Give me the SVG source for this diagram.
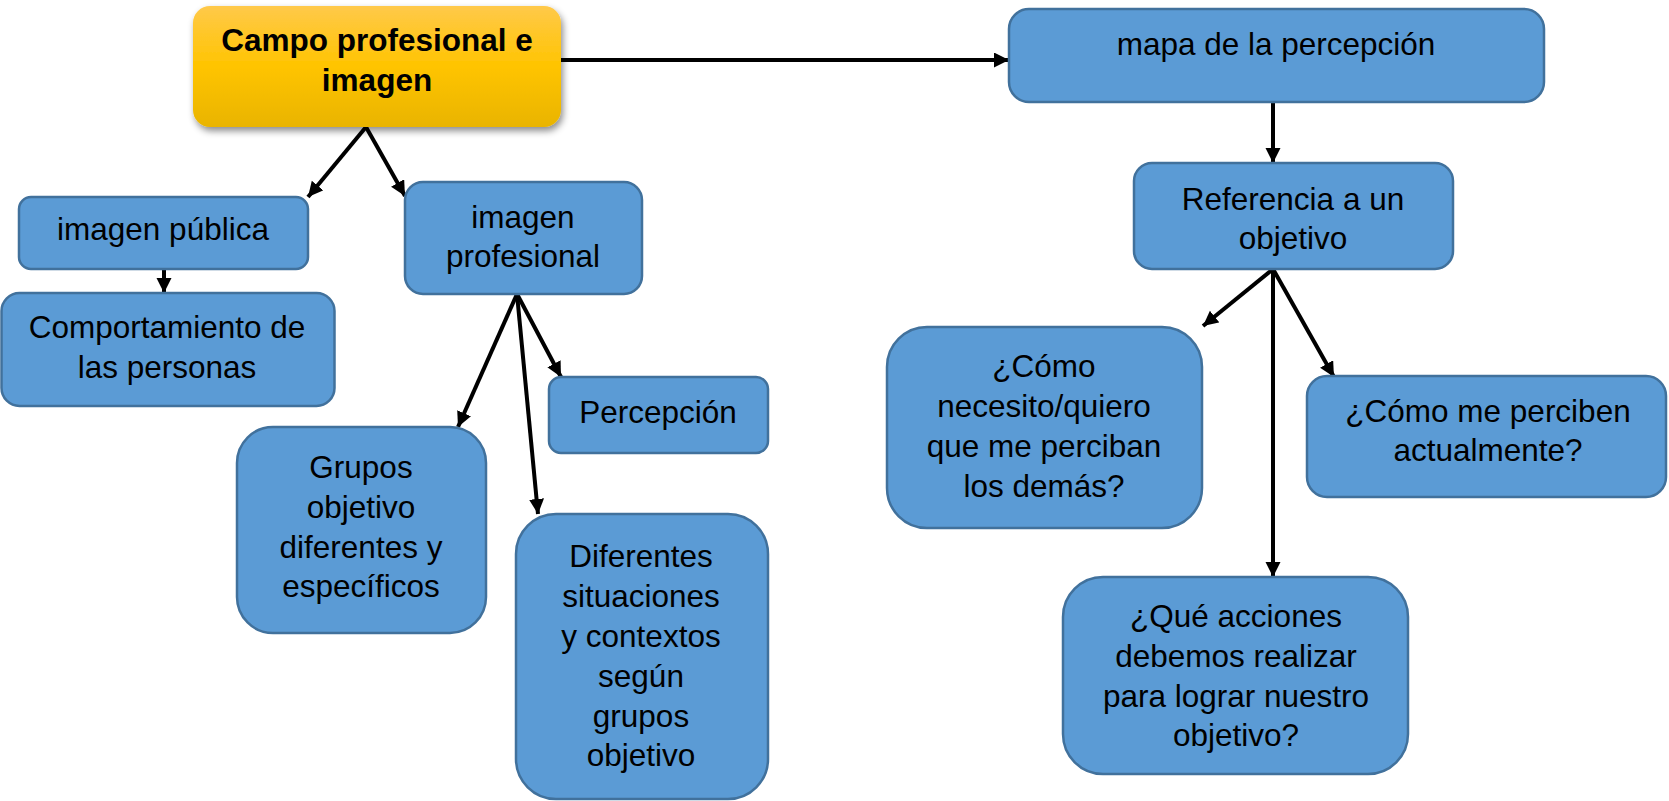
<svg xmlns="http://www.w3.org/2000/svg" width="1669" height="801" viewBox="0 0 1669 801">
<style>
.box{fill:#5B9BD5;stroke:#41719C;stroke-width:2.5}
.t{font-family:"Liberation Sans",Arial,sans-serif;font-size:31.5px;fill:#000;text-anchor:middle}
.tb{font-weight:bold}
.c{stroke:#000;stroke-width:4;fill:none;marker-end:url(#ah)}
</style>
<defs>
<marker id="ah" markerWidth="16" markerHeight="16" refX="15" refY="7.5" orient="auto" markerUnits="userSpaceOnUse">
<path d="M0,0 L15,7.5 L0,15 z" fill="#000"/>
</marker>
<linearGradient id="gold" x1="0" y1="0" x2="0" y2="1">
<stop offset="0" stop-color="#FFC94A"/>
<stop offset="0.5" stop-color="#FFC400"/>
<stop offset="1" stop-color="#E9B400"/>
</linearGradient>
<filter id="sh" x="-10%" y="-10%" width="125%" height="135%">
<feDropShadow dx="2" dy="4" stdDeviation="3.5" flood-color="#000" flood-opacity="0.45"/>
</filter>
</defs>
<rect width="1669" height="801" fill="#fff"/>

<g id="connectors">
<line class="c" x1="561" y1="60" x2="1009" y2="60"/>
<line class="c" x1="366" y1="127" x2="308" y2="197"/>
<line class="c" x1="366" y1="127" x2="405" y2="196"/>
<line class="c" x1="164" y1="269" x2="164" y2="293"/>
<line class="c" x1="517" y1="294" x2="458" y2="427"/>
<line class="c" x1="517" y1="294" x2="561" y2="377"/>
<line class="c" x1="517" y1="294" x2="538" y2="514"/>
<line class="c" x1="1273" y1="102" x2="1273" y2="163"/>
<line class="c" x1="1273" y1="269" x2="1203" y2="326"/>
<line class="c" x1="1273" y1="269" x2="1273" y2="577"/>
<line class="c" x1="1273" y1="269" x2="1334" y2="377"/>
</g>

<g id="campo">
<rect x="193" y="6" width="368" height="121" rx="17" fill="url(#gold)" filter="url(#sh)"/>
<text class="t tb" x="377" y="51">Campo profesional e</text>
<text class="t tb" x="377" y="91">imagen</text>
</g>

<g id="mapa">
<rect class="box" x="1009" y="9" width="535" height="93" rx="20"/>
<text class="t" x="1276" y="55">mapa de la percepción</text>
</g>

<g id="referencia">
<rect class="box" x="1134" y="163" width="319" height="106" rx="18"/>
<text class="t" x="1293" y="210">Referencia a un</text>
<text class="t" x="1293" y="249">objetivo</text>
</g>

<g id="imagen-publica">
<rect class="box" x="19" y="197" width="289" height="72" rx="12"/>
<text class="t" x="163" y="240">imagen pública</text>
</g>

<g id="comportamiento">
<rect class="box" x="1.5" y="293" width="333" height="113" rx="18"/>
<text class="t" x="167" y="338">Comportamiento de</text>
<text class="t" x="167" y="378">las personas</text>
</g>

<g id="imagen-profesional">
<rect class="box" x="405" y="182" width="237" height="112" rx="18"/>
<text class="t" x="523" y="228">imagen</text>
<text class="t" x="523" y="267">profesional</text>
</g>

<g id="percepcion">
<rect class="box" x="549" y="377" width="219" height="76" rx="12"/>
<text class="t" x="658" y="423">Percepción</text>
</g>

<g id="grupos">
<rect class="box" x="237" y="427" width="249" height="206" rx="36"/>
<text class="t" x="361" y="478">Grupos</text>
<text class="t" x="361" y="518">objetivo</text>
<text class="t" x="361" y="558">diferentes y</text>
<text class="t" x="361" y="597">específicos</text>
</g>

<g id="diferentes">
<rect class="box" x="516" y="514" width="252" height="285" rx="40"/>
<text class="t" x="641" y="567">Diferentes</text>
<text class="t" x="641" y="607">situaciones</text>
<text class="t" x="641" y="647">y contextos</text>
<text class="t" x="641" y="687">según</text>
<text class="t" x="641" y="727">grupos</text>
<text class="t" x="641" y="766">objetivo</text>
</g>

<g id="como-necesito">
<rect class="box" x="887" y="327" width="315" height="201" rx="40"/>
<text class="t" x="1044" y="377">¿Cómo</text>
<text class="t" x="1044" y="417">necesito/quiero</text>
<text class="t" x="1044" y="457">que me perciban</text>
<text class="t" x="1044" y="497">los demás?</text>
</g>

<g id="como-perciben">
<rect class="box" x="1307" y="376" width="359" height="121" rx="20"/>
<text class="t" x="1488" y="422">¿Cómo me perciben</text>
<text class="t" x="1488" y="461">actualmente?</text>
</g>

<g id="que-acciones">
<rect class="box" x="1063" y="577" width="345" height="197" rx="40"/>
<text class="t" x="1236" y="627">¿Qué acciones</text>
<text class="t" x="1236" y="667">debemos realizar</text>
<text class="t" x="1236" y="707">para lograr nuestro</text>
<text class="t" x="1236" y="746">objetivo?</text>
</g>
</svg>
